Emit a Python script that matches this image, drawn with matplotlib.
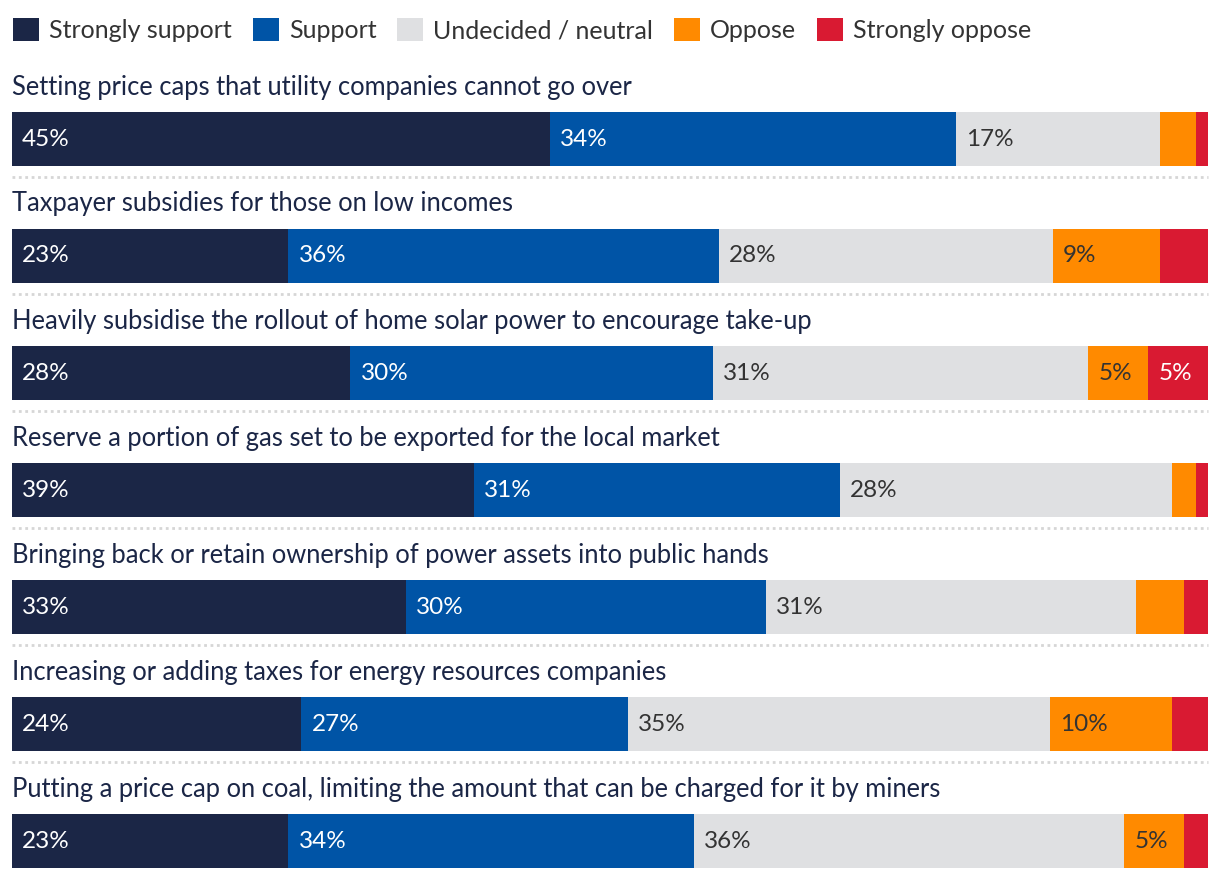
import matplotlib

matplotlib.use("Agg")
import matplotlib.pyplot as plt
from matplotlib.patches import Patch
import numpy as np

plt.rcParams["font.family"] = ["Lato", "DejaVu Sans"]

questions = [
    "Setting price caps that utility companies cannot go over",
    "Taxpayer subsidies for those on low incomes",
    "Heavily subsidise the rollout of home solar power to encourage take-up",
    "Reserve a portion of gas set to be exported for the local market",
    "Bringing back or retain ownership of power assets into public hands",
    "Increasing or adding taxes for energy resources companies",
    "Putting a price cap on coal, limiting the amount that can be charged for it by miners",
]
categories = ["Strongly support", "Support", "Undecided / neutral", "Oppose", "Strongly oppose"]

strongly_support = [45.0, 23.1, 28.3, 38.6, 32.9, 24.2, 23.1]
support = [33.9, 36.0, 30.3, 30.6, 30.1, 27.3, 33.9]
neutral = [17.1, 27.9, 31.4, 27.8, 30.9, 35.3, 36.0]
oppose = [3.0, 9.0, 5.0, 2.0, 4.0, 10.2, 5.0]
strongly_oppose = [1.0, 4.0, 5.0, 1.0, 2.0, 3.0, 2.0]

colors = ["#1b2646", "#0054a6", "#dfe0e2", "#ff8a00", "#d91a32"]
label_colors = ["white", "white", "#333333", "#333333", "white"]
title_color = "#1b2646"

W, H = 1220, 880
fig = plt.figure(figsize=(W / 100, H / 100), dpi=100)

# one row unit = 117 px, first bar centred at y=139 px
row_px = 117.0
first_px = 139.0
ax = fig.add_axes([12 / W, 0, 1196 / W, 1])
ax.set_xlim(0, 100)
ax.set_ylim((H - first_px) / row_px, -first_px / row_px)
ax.axis("off")

series = np.array([strongly_support, support, neutral, oppose, strongly_oppose])
totals = series.sum(axis=0)
shares = series / totals * 100
lefts = np.vstack([np.zeros(len(questions)), np.cumsum(shares, axis=0)[:-1]])
y = np.arange(len(questions))
bar_h = 54 / row_px

for j, cat in enumerate(categories):
    ax.barh(y, shares[j], left=lefts[j], height=bar_h, color=colors[j], linewidth=0)
    for i in range(len(questions)):
        val = series[j][i]
        if round(val) >= 5:
            ax.text(lefts[j][i] + 0.85, i, f"{round(val)}%", ha="left", va="center",
                    fontsize=17.5, color=label_colors[j])

for i, q in enumerate(questions):
    ax.text(0, i - 52 / row_px, q, ha="left", va="center", fontsize=18.4, color=title_color)
    if i < len(questions) - 1:
        ax.plot([0, 100], [i + 38 / row_px] * 2, color="#d6d6d6", linestyle=(0, (1, 1.3)),
                linewidth=2.0, solid_capstyle="butt", clip_on=False)

handles = [Patch(facecolor=c, edgecolor="none") for c in colors]
leg = fig.legend(handles, categories, loc="upper left", bbox_to_anchor=(3 / W, 1 - 8 / H),
                 ncol=5, frameon=False, fontsize=18, handlelength=1.04, handleheight=1.04,
                 handletextpad=0.4, columnspacing=0.84, borderaxespad=0)
for t in leg.get_texts():
    t.set_color("#333333")

plt.savefig("out.png", dpi=100)
plt.close()
